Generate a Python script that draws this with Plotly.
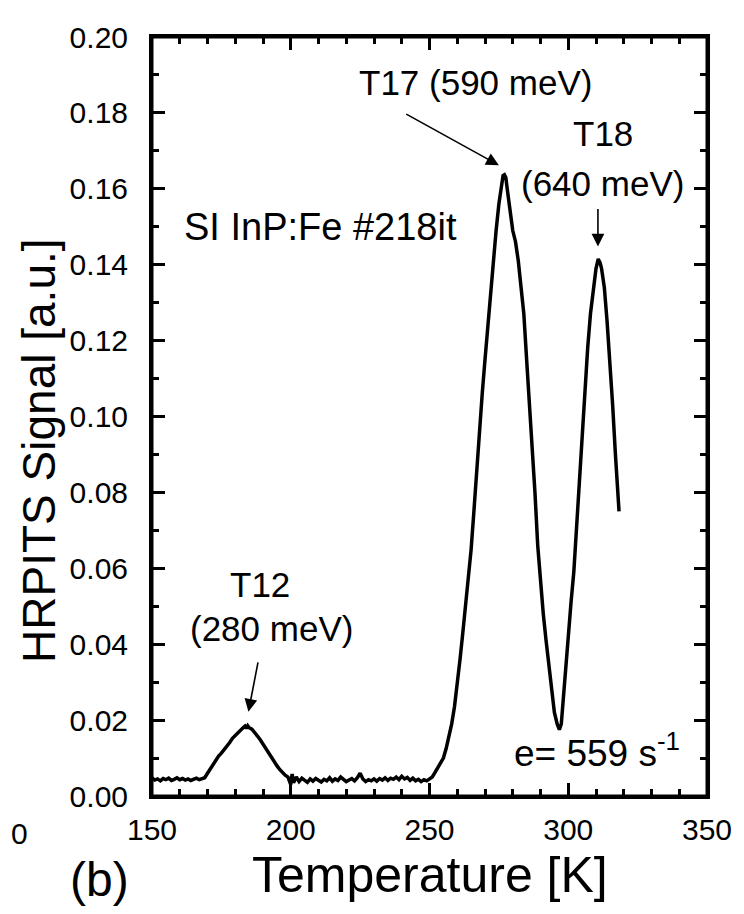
import plotly.graph_objects as go

# Temperature [K]
temperature = [
    150, 151, 152, 153, 154, 155, 156, 157, 158, 159, 160, 161, 162, 163, 164, 165, 166, 167, 168, 169,
    170, 171, 172, 173, 174, 175, 176, 177, 178, 179, 180, 181, 182, 183, 183.5, 184, 184.5, 185, 186, 187,
    188, 189, 190, 191, 192, 193, 194, 195, 196, 197, 198, 199, 200, 200.5, 201, 202, 203, 204, 205, 206,
    207, 208, 209, 210, 211, 212, 213, 214, 215, 216, 217, 218, 219, 220, 221, 222, 223, 224, 225, 226,
    227, 228, 229, 230, 231, 232, 233, 234, 235, 236, 237, 238, 239, 240, 241, 242, 243, 244, 245, 246,
    247, 248, 249, 250, 251, 252, 253, 254, 255, 256, 257, 258, 259, 260, 261, 262, 263, 264, 265, 266,
    267, 268, 269, 270, 271, 272, 273, 274, 275, 275.5, 276, 276.5, 277, 277.5, 278, 279, 280, 281, 282, 283,
    284, 285, 286, 287, 288, 289, 290, 291, 292, 293, 294, 295, 296, 296.8, 297.5, 298, 299, 300, 301, 302,
    303, 304, 305, 306, 307, 308, 309, 310, 310.8, 311.5, 312, 313, 314, 315, 316, 317, 318, 318.3,
]

# HRPITS signal [a.u.]
signal = [
    0.0048, 0.0042, 0.0045, 0.0040, 0.0046, 0.0043, 0.0047, 0.0041, 0.0044, 0.0048, 0.0043, 0.0046, 0.0042, 0.0045, 0.0041, 0.0044, 0.0047, 0.0043, 0.0045, 0.0048,
    0.0060, 0.0072, 0.0085, 0.0095, 0.0105, 0.0113, 0.0122, 0.0130, 0.0141, 0.0152, 0.0160, 0.0168, 0.0176, 0.0181, 0.0184, 0.0178, 0.0185, 0.0180, 0.0176, 0.0168,
    0.0158, 0.0148, 0.0136, 0.0124, 0.0112, 0.0100, 0.0090, 0.0080, 0.0070, 0.0062, 0.0055, 0.0050, 0.0030, 0.0058, 0.0035, 0.0050, 0.0038, 0.0047, 0.0040, 0.0036,
    0.0045, 0.0039, 0.0046, 0.0041, 0.0037, 0.0044, 0.0040, 0.0048, 0.0039, 0.0045, 0.0041, 0.0050, 0.0043, 0.0038, 0.0042, 0.0046, 0.0040, 0.0048, 0.0060, 0.0045,
    0.0038, 0.0043, 0.0040, 0.0045, 0.0039, 0.0046, 0.0042, 0.0048, 0.0041, 0.0047, 0.0044, 0.0050, 0.0043, 0.0052, 0.0045, 0.0049, 0.0041, 0.0047, 0.0040, 0.0044,
    0.0038, 0.0043, 0.0040, 0.0044, 0.0050, 0.0062, 0.0075, 0.0088, 0.0100, 0.0125, 0.0155, 0.0190, 0.0235, 0.0290, 0.0360, 0.0430, 0.0500, 0.0570, 0.0650, 0.0750,
    0.0860, 0.0960, 0.1060, 0.1150, 0.1240, 0.1330, 0.1420, 0.1490, 0.1560, 0.1590, 0.1620, 0.1635, 0.1637, 0.1630, 0.1600, 0.1540, 0.1490, 0.1460, 0.1410, 0.1340,
    0.1270, 0.1150, 0.1040, 0.0940, 0.0800, 0.0660, 0.0560, 0.0480, 0.0410, 0.0340, 0.0270, 0.0220, 0.0190, 0.0175, 0.0190, 0.0240, 0.0320, 0.0410, 0.0510, 0.0590,
    0.0710, 0.0840, 0.0960, 0.1070, 0.1180, 0.1270, 0.1340, 0.1390, 0.1415, 0.1405, 0.1390, 0.1340, 0.1250, 0.1150, 0.1030, 0.0900, 0.0790, 0.0750,
]

x_tick_vals = [150, 200, 250, 300, 350]
y_tick_vals = [0.00, 0.02, 0.04, 0.06, 0.08, 0.10, 0.12, 0.14, 0.16, 0.18, 0.20]

FONT = "Liberation Sans, Arial, sans-serif"

fig = go.Figure()
fig.add_trace(go.Scatter(x=temperature, y=signal, mode="lines",
                         line=dict(color="black", width=3.5), showlegend=False,
                         hoverinfo="skip"))

axis_common = dict(
    showline=True, linecolor="black", linewidth=3, mirror="ticks",
    ticks="inside", ticklen=13, tickwidth=2.5, tickcolor="black",
    showgrid=False, zeroline=False, ticklabeloverflow="allow",
    tickfont=dict(family=FONT, size=30, color="black"),
)

fig.update_xaxes(range=[150, 350], tickvals=x_tick_vals,
                 minor=dict(ticks="inside", ticklen=7, tickwidth=2.5, dtick=10, tick0=150, tickcolor="black", showgrid=False),
                 ticklabelstandoff=5, **axis_common)
fig.update_yaxes(range=[0, 0.2], tickvals=y_tick_vals, tickformat=".2f",
                 minor=dict(ticks="inside", ticklen=7, tickwidth=2.5, dtick=0.01, tick0=0, tickcolor="black", showgrid=False),
                 ticklabelstandoff=15, **axis_common)

ann_font = dict(family=FONT, size=35, color="black")
arrow_style = dict(text="", showarrow=True, arrowhead=2, arrowsize=1.6, arrowwidth=1.6, arrowcolor="black",
                   xref="x", yref="y", axref="x", ayref="y")

annotations = [
    # arrows
    dict(x=275.0, y=0.1662, ax=241.1, ay=0.1799, **arrow_style),
    dict(x=310.7, y=0.1448, ax=310.7, ay=0.1551, **arrow_style),
    dict(x=184.75, y=0.0222, ax=188.3, ay=0.0356, **arrow_style),
    # texts
    dict(x=266.4, y=0.1879, xref="x", yref="y", text="T17 (590 meV)", showarrow=False,
         xanchor="center", yanchor="middle", font=ann_font),
    dict(x=312.5, y=0.1745, xref="x", yref="y", text="T18", showarrow=False,
         xanchor="center", yanchor="middle", font=ann_font),
    dict(x=312.5, y=0.1615, xref="x", yref="y", text="(640 meV)", showarrow=False,
         xanchor="center", yanchor="middle", font=ann_font),
    dict(x=160.7, y=0.1499, xref="x", yref="y", text="SI InP:Fe #218it", showarrow=False,
         xanchor="left", yanchor="middle", font=dict(family=FONT, size=38, color="black")),
    dict(x=188.9, y=0.0557, xref="x", yref="y", text="T12", showarrow=False,
         xanchor="center", yanchor="middle", font=ann_font),
    dict(x=192.9, y=0.0441, xref="x", yref="y", text="(280 meV)", showarrow=False,
         xanchor="center", yanchor="middle", font=ann_font),
    dict(x=279.6, y=0.0052, xref="x", yref="y", text="e= 559 s<sup>-1</sup>", showarrow=False,
         xanchor="left", yanchor="bottom", font=dict(family=FONT, size=37, color="black")),
    # axis titles and panel label
    dict(x=0.5, y=-0.1439, xref="paper", yref="paper", text="Temperature [K]", showarrow=False,
         xanchor="center", yanchor="bottom", font=dict(family=FONT, size=50, color="black")),
    dict(x=-0.205, y=0.455, xref="paper", yref="paper", text="HRPITS Signal [a.u.]", showarrow=False,
         textangle=-90, xanchor="center", yanchor="middle", font=dict(family=FONT, size=46, color="black")),
    dict(x=-0.0946, y=-0.147, xref="paper", yref="paper", text="(b)", showarrow=False,
         xanchor="center", yanchor="bottom", font=dict(family=FONT, size=48, color="black")),
    dict(x=-0.257, y=-0.0735, xref="paper", yref="paper", text="0", showarrow=False,
         xanchor="left", yanchor="bottom", font=dict(family=FONT, size=30, color="black")),
]

# plot frame (box round the plot area)
frame = dict(type="rect", xref="paper", yref="paper", x0=0, x1=1, y0=0, y1=1,
             line=dict(color="black", width=3), fillcolor="rgba(0,0,0,0)", layer="above")

# The page body has an 8px default margin; size the figure so the plot area
# lands at x 152..712, y 21..796 of the 744x914 window.
fig.update_layout(
    width=736, height=906,
    margin=dict(l=144, r=32, t=13, b=118),
    paper_bgcolor="white", plot_bgcolor="white",
    annotations=annotations,
    shapes=[frame],
    showlegend=False,
)

fig.write_html("out.html", config={"displayModeBar": False})
